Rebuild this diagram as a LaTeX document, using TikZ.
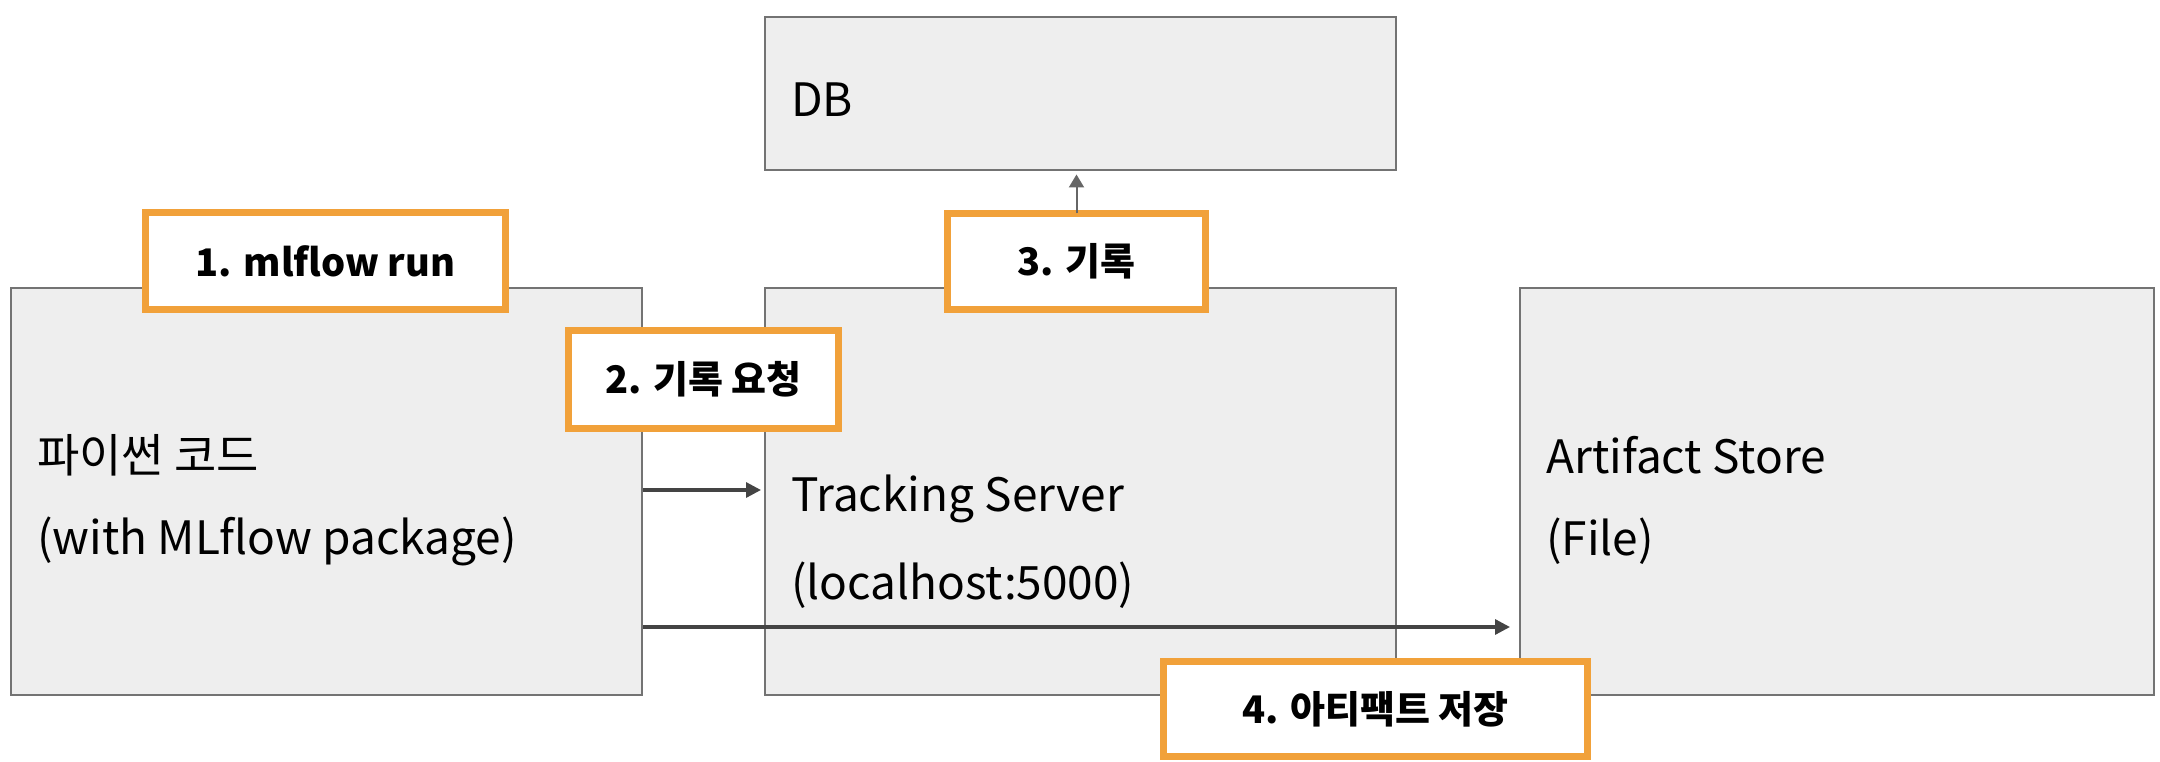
\documentclass[tikz,border=0pt]{standalone}
\usepackage{fontspec}
\setmainfont{Noto Sans CJK KR}
\usetikzlibrary{arrows.meta}
\definecolor{boxfill}{HTML}{EEEEEE}
\definecolor{boxline}{HTML}{737373}
\definecolor{labelorange}{HTML}{F1A13A}
\definecolor{arrowdark}{HTML}{444444}
\definecolor{arrowgray}{HTML}{666666}
\tikzset{
  graybox/.style={draw=boxline, fill=boxfill, line width=2pt, minimum width=631pt, minimum height=407pt, inner sep=0pt},
  maintext/.style={anchor=west, inner sep=0pt, font=\fontsize{46}{55}\selectfont},
  labelbox/.style={draw=labelorange, fill=white, line width=7pt, inner sep=0pt, font=\fontsize{38}{46}\selectfont\bfseries},
  darrow/.style={draw=arrowdark, line width=3.2pt, -{Triangle[length=15pt,width=15pt]}},
  garrow/.style={draw=arrowgray, line width=2pt, -{Triangle[length=13pt,width=15pt]}}
}
\begin{document}
\begin{tikzpicture}[x=1pt,y=-1pt]
\useasboundingbox (0,0) rectangle (2160,762);
% gray boxes
\node[graybox] (code) at (326.5,491.5) {};
\node[graybox] (server) at (1080.5,491.5) {};
\node[graybox, minimum height=153pt] (db) at (1080.5,93.5) {};
\node[graybox, minimum width=634pt] (art) at (1837,491.5) {};
% texts
\node[maintext] (t1) at (37,455) {파이썬 코드};
\node[maintext] (t2) at (37,541) {(with MLflow package)};
\node[maintext] (t3) at (791,499) {Tracking Server};
\node[maintext] (t4) at (791,585) {(localhost:5000)};
\node[maintext] (t5) at (791,100) {DB};
\node[maintext] (t6) at (1546,455) {Artifact Store};
\node[maintext] (t7) at (1546,541) {(File)};
% arrows between boxes
\draw[darrow, shorten >=3pt] ([yshift=1.5pt]code.east) -- ([yshift=1.5pt]server.west);
\draw[darrow, shorten >=9pt] ([yshift=-135.5pt]code.east) -- ([yshift=-135.5pt]art.west);
% label boxes
\node[labelbox, minimum width=360pt, minimum height=97pt] (l1) at (325.5,261) {1. mlflow run};
\node[labelbox, minimum width=270pt, minimum height=98pt] (l2) at (703.5,379.5) {2. 기록 요청};
\node[labelbox, minimum width=258pt, minimum height=96pt] (l3) at (1076.5,261.5) {3. 기록};
\node[labelbox, minimum width=424pt, minimum height=95pt] (l4) at (1375.5,709) {4. 아티팩트 저장};
% arrow to DB
\draw[garrow] ([yshift=-3.5pt]l3.north) -- ([yshift=-3.5pt]l3.north |- db.south);
\end{tikzpicture}
\end{document}
